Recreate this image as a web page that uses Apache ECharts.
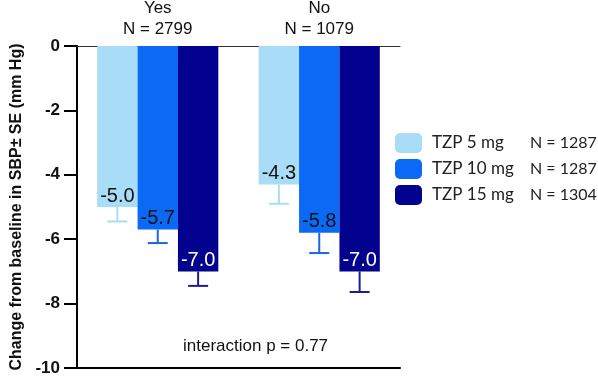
<!DOCTYPE html>
<html><head><meta charset="utf-8">
<script src="https://cdn.jsdelivr.net/npm/echarts@6/dist/echarts.min.js"></script>
<style>html,body{margin:0;padding:0;background:#fff}#c{width:598px;height:380px}</style>
</head><body><div id="c"></div>
<script>
const categories = ['Yes', 'No'];
const groupN = ['N = 2799', 'N = 1079'];
const doses = ['TZP 5 mg', 'TZP 10 mg', 'TZP 15 mg'];
const doseN = ['N = 1287', 'N = 1287', 'N = 1304'];
const tzp5 = [-5.0, -4.3];
const tzp10 = [-5.7, -5.8];
const tzp15 = [-7.0, -7.0];
const se5 = [0.45, 0.6];
const se10 = [0.42, 0.63];
const se15 = [0.45, 0.64];
const yTicks = [0, -2, -4, -6, -8, -10];
const colors = ['#A9DCF6', '#0A6AF5', '#02028F'];
const errColors = ['#A9DCF6', '#1A66E6', '#1C1C96'];
const labelColors = ['#111', '#111', '#fff'];
const values = [tzp5, tzp10, tzp15];
const ses = [se5, se10, se15];

const chart = echarts.init(document.getElementById('c'), null, {renderer: 'canvas'});
const series = [];
values.forEach((vals, i) => {
  series.push({
    name: doses[i], type: 'bar', data: vals, barWidth: '25%', barGap: 0,
    itemStyle: {color: colors[i]},
    label: {show: true, position: 'insideBottom', distance: 1, color: labelColors[i],
      fontFamily: 'Liberation Sans', fontSize: 20, formatter: p => p.value.toFixed(1)},
    z: 2
  });
});
values.forEach((vals, i) => {
  series.push({
    name: doses[i] + ' SE', type: 'custom', z: 3,
    data: vals.map((v, k) => [k, v, ses[i][k]]),
    renderItem: (params, api) => {
      const x = api.value(0), v = api.value(1), se = api.value(2);
      const p0 = api.coord([x, v]);
      const p1 = api.coord([x, v - se]);
      const catW = api.size([1, 0])[0];
      const cx = p0[0] + (i - 1) * catW * 0.25;
      const st = {stroke: errColors[i], lineWidth: 2};
      return {type: 'group', children: [
        {type: 'line', shape: {x1: cx, y1: p0[1], x2: cx, y2: p1[1]}, style: st},
        {type: 'line', shape: {x1: cx - 10, y1: p1[1], x2: cx + 10, y2: p1[1]}, style: st}
      ]};
    }
  });
});

chart.setOption({
  animation: false,
  grid: {left: 77, right: 198, top: 46, bottom: 12, outerBoundsMode: 'none', containLabel: false},
  legend: {
    data: doses, orient: 'vertical', left: 395, top: 133, itemWidth: 27, itemHeight: 20,
    itemGap: 6, icon: 'roundRect', padding: 0,
    formatter: name => { const k = doses.indexOf(name); return '{a|' + name + '}{b|' + doseN[k] + '}'; },
    textStyle: {rich: {
      a: {fontFamily: 'Lato', fontSize: 17, color: '#222', width: 98, padding: [0, 0, 0, 5]},
      b: {fontFamily: 'Lato', fontSize: 16, color: '#222'}
    }}
  },
  xAxis: [{
    type: 'category', data: categories, position: 'top',
    axisLine: {lineStyle: {color: '#333', width: 1}}, axisTick: {show: false},
    axisLabel: {margin: 6, fontFamily: 'Liberation Sans', fontSize: 17, color: '#111', lineHeight: 21,
      formatter: (v, idx) => v + '\n' + groupN[idx]}
  }, {
    type: 'category', data: categories, position: 'bottom',
    axisLine: {lineStyle: {color: '#000', width: 2}}, axisTick: {show: false}, axisLabel: {show: false}
  }],
  yAxis: {
    type: 'value', min: -10, max: 0, interval: 2,
    name: 'Change from baseline in SBP\u00B1 SE (mm Hg)', nameLocation: 'middle', nameGap: 50,
    nameTextStyle: {fontFamily: 'Liberation Sans', fontWeight: 'bold', fontSize: 16, color: '#111'},
    axisLine: {show: true, lineStyle: {color: '#000', width: 2}},
    axisTick: {show: true, length: 13, lineStyle: {color: '#000', width: 2}},
    axisLabel: {margin: 17, fontFamily: 'Liberation Sans', fontWeight: 'bold', fontSize: 17, color: '#111',
      formatter: v => yTicks.includes(v) ? String(v) : ''},
    splitLine: {show: false}
  },
  graphic: [{type: 'text', left: 183, top: 338,
    style: {text: 'interaction p = 0.77', fontFamily: 'Liberation Sans', fontSize: 17, fill: '#111'}}],
  series: series
});
</script></body></html>
